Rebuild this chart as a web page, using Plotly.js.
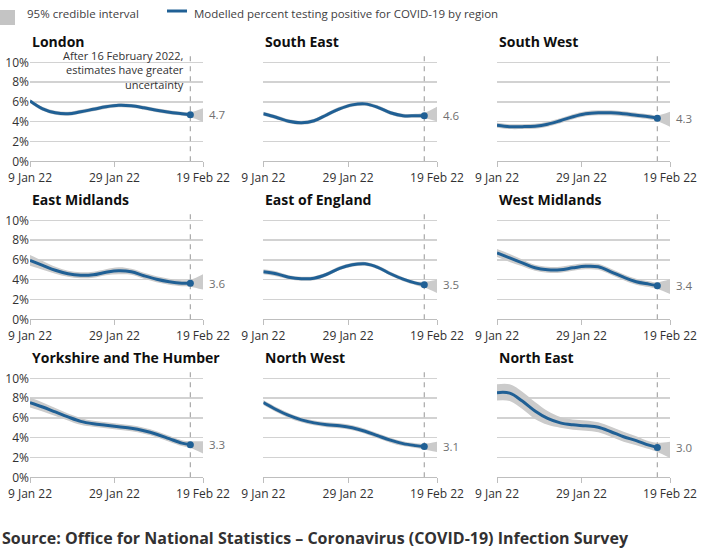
<!DOCTYPE html>
<html><head><meta charset="utf-8">
<script src="https://cdn.plot.ly/plotly-3.0.1.min.js"></script>
<style>html,body{margin:0;padding:0;background:#fff}#c{width:703px;height:549px}</style>
</head><body><div id="c"></div>
<script>
var bandDates=['2022-01-09','2022-01-12','2022-01-15','2022-01-18','2022-01-21','2022-01-24','2022-01-27','2022-01-30','2022-02-02','2022-02-05','2022-02-08','2022-02-11','2022-02-14','2022-02-16','2022-02-19'];
var lineDates=bandDates.slice(0,14);
var regions=['London','South East','South West','East Midlands','East of England','West Midlands','Yorkshire and The Humber','North West','North East'];
var endLabels=['4.7','4.6','4.3','3.6','3.5','3.4','3.3','3.1','3.0'];
var tickDates=['2022-01-09','2022-01-29','2022-02-19'];
var tickLabels=['9 Jan 22','29 Jan 22','19 Feb 22'];
var yTicks=[0,2,4,6,8,10];
var yTickLabels=['0%','2%','4%','6%','8%','10%'];

var valLondon=[6.1,5.3,4.9,4.8,5.0,5.25,5.5,5.65,5.6,5.4,5.15,4.95,4.8,4.7];
var hiLondon=[6.3,5.5,5.1,5.0,5.2,5.45,5.7,5.85,5.8,5.6,5.35,5.15,5.0,4.95,5.35];
var loLondon=[5.9,5.1,4.7,4.6,4.8,5.05,5.3,5.45,5.4,5.2,4.95,4.75,4.6,4.45,4.0];

var valSE=[4.8,4.45,4.05,3.9,4.1,4.7,5.3,5.7,5.8,5.45,4.9,4.6,4.6,4.6];
var hiSE=[5.0,4.65,4.25,4.1,4.3,4.9,5.5,5.9,6.0,5.65,5.1,4.8,4.8,4.9,5.5];
var loSE=[4.6,4.25,3.85,3.7,3.9,4.5,5.1,5.5,5.6,5.25,4.7,4.4,4.4,4.35,4.05];

var valSW=[3.65,3.5,3.5,3.55,3.75,4.1,4.5,4.8,4.9,4.9,4.8,4.65,4.5,4.35];
var hiSW=[3.9,3.75,3.75,3.8,4.0,4.35,4.75,5.05,5.15,5.15,5.05,4.9,4.75,4.65,5.0];
var loSW=[3.4,3.25,3.25,3.3,3.5,3.85,4.25,4.55,4.65,4.65,4.55,4.4,4.25,4.05,3.5];

var valEM=[5.95,5.45,4.95,4.6,4.45,4.5,4.75,4.9,4.8,4.4,4.05,3.8,3.65,3.65];
var hiEM=[6.5,5.9,5.3,4.9,4.75,4.8,5.05,5.25,5.1,4.7,4.35,4.1,3.95,4.0,4.55];
var loEM=[5.4,5.0,4.6,4.3,4.15,4.2,4.45,4.55,4.5,4.1,3.75,3.5,3.35,3.3,3.0];

var valEE=[4.8,4.6,4.25,4.1,4.15,4.55,5.15,5.5,5.6,5.25,4.6,4.05,3.65,3.5];
var hiEE=[5.05,4.85,4.45,4.3,4.35,4.75,5.35,5.7,5.8,5.45,4.8,4.25,3.85,3.8,4.0];
var loEE=[4.55,4.35,4.05,3.9,3.95,4.35,4.95,5.3,5.4,5.05,4.4,3.85,3.45,3.2,2.65];

var valWM=[6.7,6.2,5.7,5.2,5.0,5.0,5.2,5.35,5.3,4.8,4.25,3.8,3.55,3.4];
var hiWM=[7.1,6.6,6.05,5.5,5.3,5.3,5.5,5.65,5.6,5.1,4.55,4.1,3.85,3.75,4.05];
var loWM=[6.3,5.8,5.35,4.9,4.7,4.7,4.9,5.05,5.0,4.5,3.95,3.5,3.25,3.05,2.55];

var valYH=[7.55,7.1,6.6,6.1,5.65,5.4,5.25,5.1,4.95,4.7,4.35,3.9,3.45,3.3];
var hiYH=[8.05,7.55,7.0,6.45,6.0,5.7,5.55,5.4,5.25,5.0,4.65,4.2,3.75,3.65,3.65];
var loYH=[7.05,6.65,6.2,5.75,5.3,5.1,4.95,4.8,4.65,4.4,4.05,3.6,3.15,2.95,2.4];

var valNW=[7.55,6.85,6.25,5.8,5.5,5.3,5.2,5.0,4.65,4.2,3.75,3.4,3.2,3.1];
var hiNW=[7.8,7.1,6.5,6.05,5.75,5.55,5.45,5.25,4.9,4.45,4.0,3.65,3.45,3.4,3.6];
var loNW=[7.3,6.6,6.0,5.55,5.25,5.05,4.95,4.75,4.4,3.95,3.5,3.15,2.95,2.8,2.55];

var valNE=[8.55,8.5,7.7,6.7,5.95,5.5,5.3,5.2,5.05,4.6,4.1,3.7,3.25,3.0];
var hiNE=[9.4,9.4,8.65,7.6,6.7,6.1,5.85,5.75,5.55,5.1,4.6,4.15,3.65,3.5,3.6];
var loNE=[7.75,7.7,6.9,5.9,5.3,5.0,4.8,4.7,4.55,4.1,3.6,3.25,2.85,2.55,1.95];

var seriesVals=[valLondon,valSE,valSW,valEM,valEE,valWM,valYH,valNW,valNE];
var seriesHi=[hiLondon,hiSE,hiSW,hiEM,hiEE,hiWM,hiYH,hiNW,hiNE];
var seriesLo=[loLondon,loSE,loSW,loEM,loEE,loWM,loYH,loNW,loNE];

var W=703,H=549,FONT='"Open Sans", sans-serif',BLUE='#206095',BAND='#cbcbcb',TXT='#323132',GRID='#d2d2d2';
var colL=[30,263.3,497],colR=[203,437,670];
var rowBottom=[161.3,319.3,477.3],rowTop=[52.4,210.4,368.4];

var data=[],shapes=[],annotations=[];
var layout={width:W,height:H,margin:{l:0,r:0,t:0,b:0},paper_bgcolor:'#fff',plot_bgcolor:'#fff',showlegend:false,font:{family:FONT,size:12,color:TXT}};

regions.forEach(function(name,i){
  var c=i%3,r=Math.floor(i/3),n=i+1,s=n===1?'':String(n);
  layout['xaxis'+s]={domain:[colL[c]/W,colR[c]/W],type:'date',range:['2022-01-09','2022-02-19'],tickmode:'array',tickvals:tickDates,ticktext:tickLabels,ticks:'outside',ticklen:5,tickwidth:1,tickcolor:'#bebebe',showgrid:false,zeroline:false,showline:true,linecolor:'#bebebe',linewidth:1,anchor:'y'+s,tickfont:{family:FONT,size:12,color:TXT},fixedrange:true};
  layout['yaxis'+s]={domain:[1-rowBottom[r]/H,1-rowTop[r]/H],range:[0,11],tickmode:'array',tickvals:yTicks,ticktext:yTickLabels,showticklabels:c===0,ticks:'',showgrid:true,gridcolor:GRID,gridwidth:1.3,zeroline:false,showline:false,anchor:'x'+s,tickfont:{family:FONT,size:12,color:TXT},fixedrange:true};
  var xa='x'+s,ya='y'+s;
  data.push({x:bandDates,y:seriesLo[i],xaxis:xa,yaxis:ya,mode:'lines',line:{width:0,shape:'spline',color:BAND},hoverinfo:'skip',name:'95% credible interval'});
  data.push({x:bandDates,y:seriesHi[i],xaxis:xa,yaxis:ya,mode:'lines',line:{width:0,shape:'spline',color:BAND},fill:'tonexty',fillcolor:BAND,hoverinfo:'skip',name:'95% credible interval'});
  data.push({x:['2022-02-16','2022-02-16'],y:[0,11],xaxis:xa,yaxis:ya,mode:'lines',line:{color:'#a8a8a8',width:1.2,dash:'5px,5px'},hoverinfo:'skip'});
  data.push({x:lineDates,y:seriesVals[i],xaxis:xa,yaxis:ya,mode:'lines',line:{color:BLUE,width:3,shape:'spline'},name:name});
  data.push({x:[lineDates[13]],y:[seriesVals[i][13]],xaxis:xa,yaxis:ya,mode:'markers',marker:{color:BLUE,size:7},hoverinfo:'skip'});
  annotations.push({xref:'paper',yref:'paper',x:colL[c]/W,y:1-(rowTop[r]-10.5)/H,xanchor:'left',yanchor:'middle',text:'<b>'+name+'</b>',showarrow:false,font:{family:FONT,size:14,color:'#0f0f0f'}});
  annotations.push({xref:xa,yref:ya,x:'2022-02-19',y:seriesVals[i][13],xanchor:'left',yanchor:'middle',xshift:4,text:endLabels[i],showarrow:false,font:{family:FONT,size:11.5,color:'#707071'}});
});

annotations.push({xref:'paper',yref:'paper',x:186/W,y:1-70/H,xanchor:'right',yanchor:'middle',align:'right',text:'After 16 February 2022,<br>estimates have greater<br>uncertainty',showarrow:false,font:{family:FONT,size:11,color:TXT}});
annotations.push({xref:'paper',yref:'paper',x:25/W,y:1-14/H,xanchor:'left',yanchor:'middle',text:'95% credible interval',showarrow:false,font:{family:FONT,size:11.5,color:'#414042'}});
annotations.push({xref:'paper',yref:'paper',x:192/W,y:1-14/H,xanchor:'left',yanchor:'middle',text:'Modelled percent testing positive for COVID-19 by region',showarrow:false,font:{family:FONT,size:11.5,color:'#414042'}});
annotations.push({xref:'paper',yref:'paper',x:0,y:1-538/H,xanchor:'left',yanchor:'middle',text:'<b>Source: Office for National Statistics – Coronavirus (COVID-19) Infection Survey</b>',showarrow:false,font:{family:FONT,size:16,color:TXT}});
shapes.push({type:'rect',xref:'paper',yref:'paper',x0:0,x1:15/W,y0:1-25/H,y1:1-10/H,fillcolor:'#c4c4c4',line:{width:0}});
shapes.push({type:'line',xref:'paper',yref:'paper',x0:167/W,x1:187/W,y0:1-11/H,y1:1-11/H,line:{color:BLUE,width:3}});
layout.shapes=shapes;layout.annotations=annotations;
Plotly.newPlot('c',data,layout,{displayModeBar:false,staticPlot:true});
</script></body></html>
